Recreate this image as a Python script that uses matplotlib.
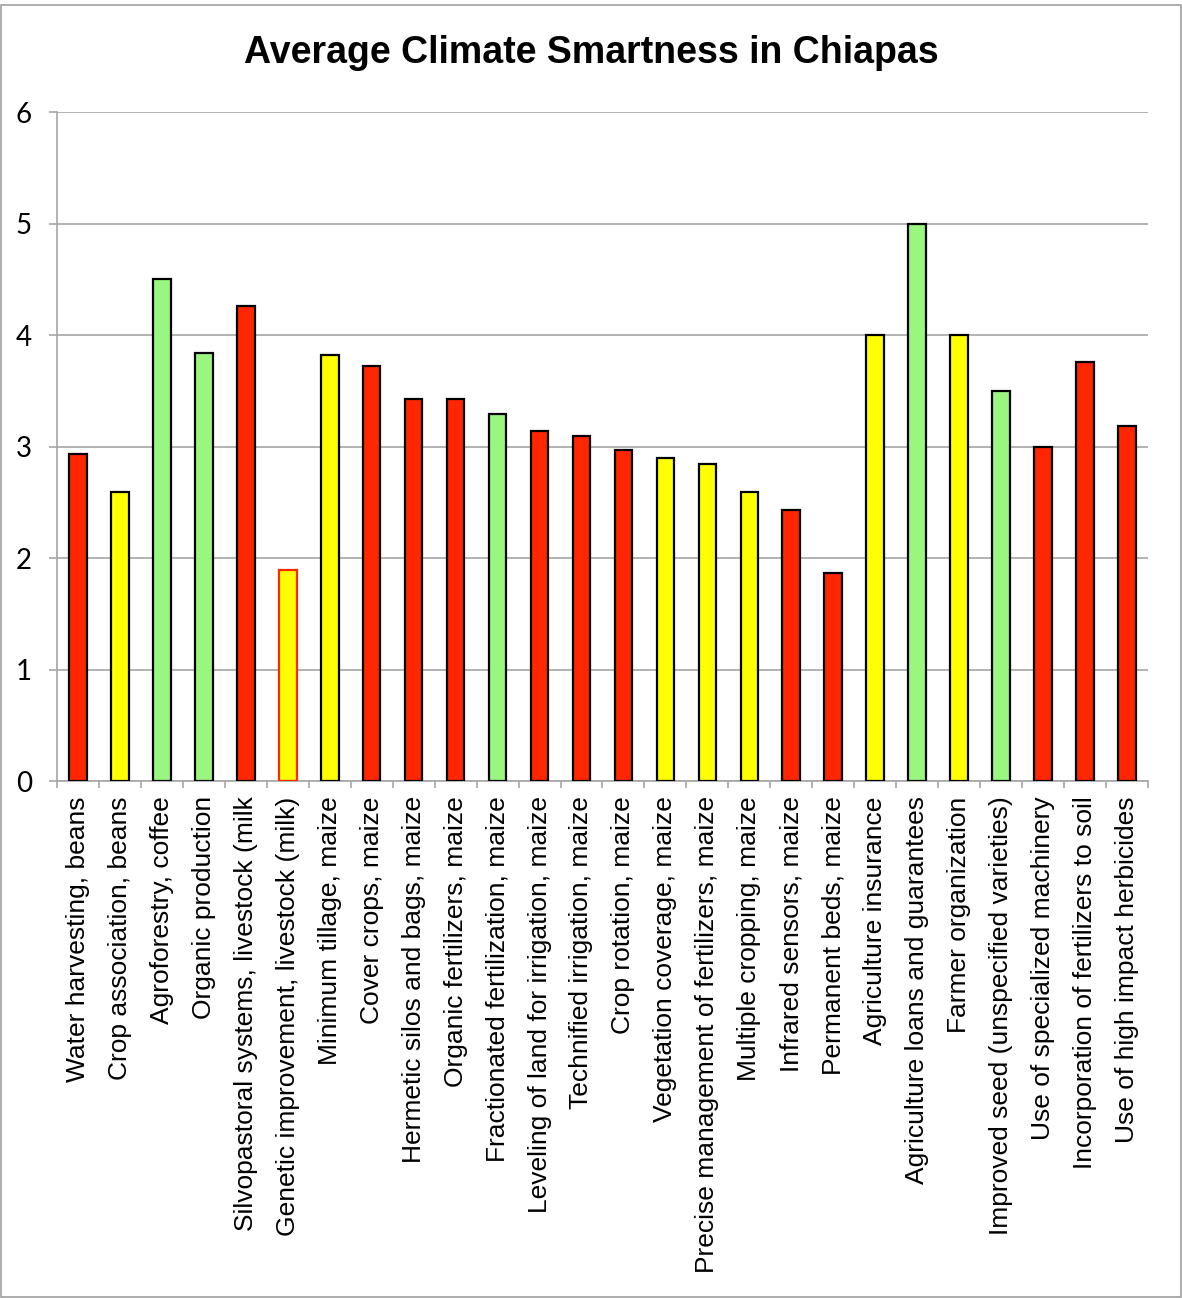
import numpy as np
import matplotlib.pyplot as plt

practices = ['Water harvesting, beans', 'Crop association, beans', 'Agroforestry, coffee',
             'Organic production', 'Silvopastoral systems, livestock (milk',
             'Genetic improvement, livestock (milk)', 'Minimum tillage, maize',
             'Cover crops, maize', 'Hermetic silos and bags, maize', 'Organic fertilizers, maize',
             'Fractionated fertilization, maize', 'Leveling of land for irrigation, maize',
             'Technified irrigation, maize', 'Crop rotation, maize', 'Vegetation coverage, maize',
             'Precise management of fertilizers, maize', 'Multiple cropping, maize',
             'Infrared sensors, maize', 'Permanent beds, maize', 'Agriculture insurance',
             'Agriculture loans and guarantees', 'Farmer organization',
             'Improved seed (unspecified varieties)', 'Use of specialized machinery',
             'Incorporation of fertilizers to soil', 'Use of high impact herbicides']
scores = [2.93, 2.59, 4.5, 3.84, 4.26, 1.89, 3.82, 3.72, 3.43, 3.43, 3.29, 3.14, 3.09,
          2.97, 2.9, 2.84, 2.59, 2.43, 1.87, 4.0, 5.0, 4.0, 3.5, 3.0, 3.76, 3.18]
rating = ['r', 'y', 'g', 'g', 'r', 'y', 'y', 'r', 'r', 'r', 'g', 'r', 'r',
          'r', 'y', 'y', 'y', 'r', 'r', 'y', 'g', 'y', 'g', 'r', 'r', 'r']

fill = {'r': '#FF2600', 'y': '#FFFF00', 'g': '#99F780'}
cols = [fill[c] for c in rating]
edges = ['black'] * len(scores)
edges[5] = '#FF2600'

fig = plt.figure(figsize=(11.82, 12.98), dpi=100)
# grey border round the whole picture
fig.patches.append(plt.Rectangle((0.001, 0.001), 0.998, 0.995, transform=fig.transFigure,
                                 fill=False, edgecolor='#A0A0A0', lw=1.2))
ax = fig.add_axes([0.0482, 0.3983, 0.9230, 0.5154])

x = np.arange(len(scores))
ax.bar(x, scores, width=0.42, color=cols, edgecolor=edges, linewidth=1.6, zorder=3)

ax.set_xlim(-0.5, len(scores) - 0.5)
ax.set_ylim(0, 6)
ax.set_yticks(range(7))
ax.set_yticklabels([str(i) for i in range(7)], fontsize=20, family=['Lato', 'DejaVu Sans'])
ax.yaxis.grid(True, color='#A6A6A6', lw=1.2, zorder=0)
ax.tick_params(axis='y', length=6, color='#A6A6A6', width=1.2, pad=12)

ax.set_xticks(np.arange(len(scores) + 1) - 0.5)
ax.set_xticklabels([])
ax.set_xticks(x, minor=True)
ax.set_xticklabels(practices, minor=True, rotation=90, fontsize=19,
                   family=['Liberation Sans', 'DejaVu Sans'], va='top', ha='center')
ax.tick_params(axis='x', which='major', length=5, color='#A6A6A6', width=1.2)
ax.tick_params(axis='x', which='minor', length=0, pad=11)

for s in ['top', 'right']:
    ax.spines[s].set_visible(False)
for s in ['left', 'bottom']:
    ax.spines[s].set_color('#A6A6A6')
    ax.spines[s].set_linewidth(1.2)

fig.text(0.5, 0.959, 'Average Climate Smartness in Chiapas', ha='center', va='center',
         fontsize=27, fontweight='bold', family=['Liberation Sans', 'DejaVu Sans'])

fig.savefig('out.png', dpi=100)
